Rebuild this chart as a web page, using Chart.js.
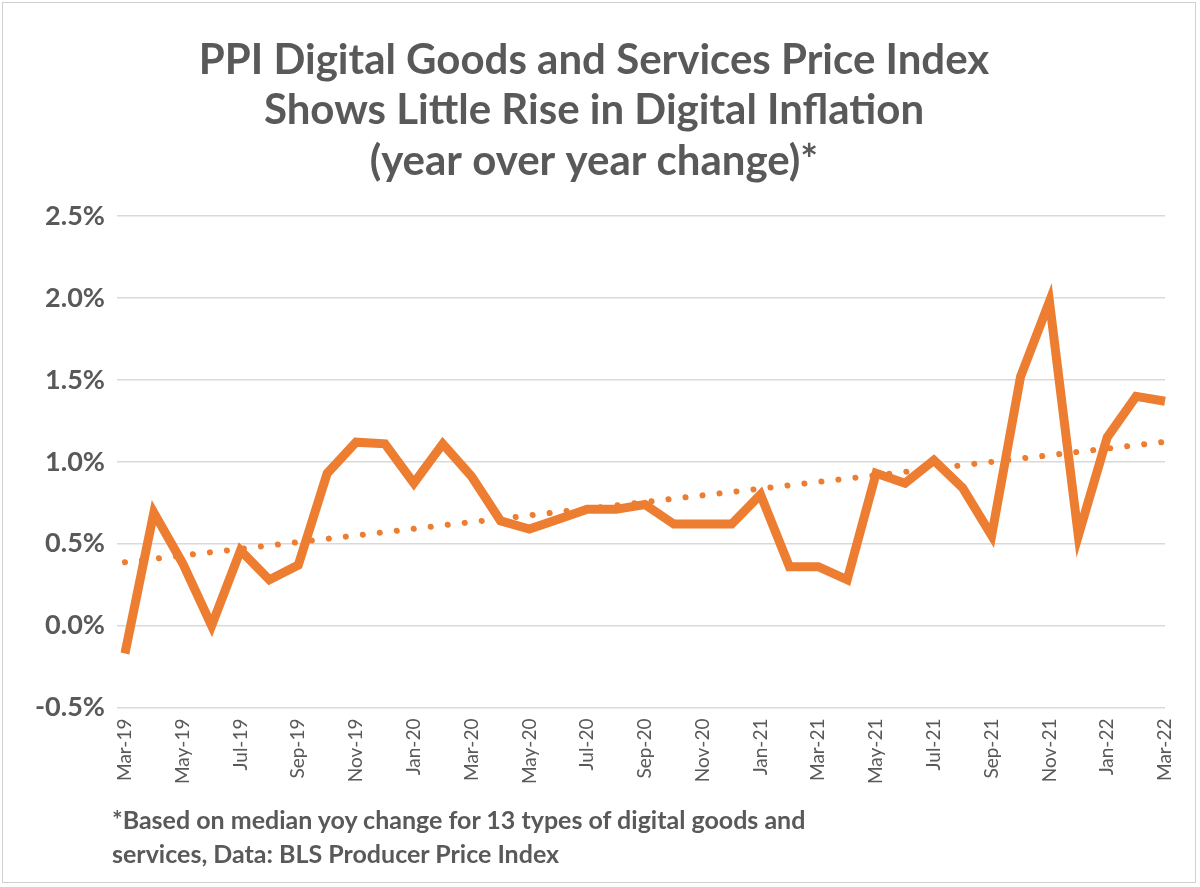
<!DOCTYPE html>
<html><head><meta charset="utf-8">
<script src="https://cdn.jsdelivr.net/npm/chart.js@4/dist/chart.umd.min.js"></script>
<style>
html,body{margin:0;padding:0;background:#fff;}
#wrap{position:absolute;left:2px;top:2px;width:1194px;height:881px;border:1px solid #d0d0d0;box-sizing:border-box;}
#note{position:absolute;left:112px;top:802px;font:bold 25px Lato,sans-serif;color:#595959;line-height:34px;}
</style></head><body>
<div id="wrap"><canvas id="c" width="1192" height="879"></canvas></div>
<div id="note">*Based on median yoy change for 13 types of digital goods and<br>services, Data: BLS Producer Price Index</div>
<script>
const months = ["Mar-19","Apr-19","May-19","Jun-19","Jul-19","Aug-19","Sep-19","Oct-19","Nov-19","Dec-19","Jan-20","Feb-20","Mar-20","Apr-20","May-20","Jun-20","Jul-20","Aug-20","Sep-20","Oct-20","Nov-20","Dec-20","Jan-21","Feb-21","Mar-21","Apr-21","May-21","Jun-21","Jul-21","Aug-21","Sep-21","Oct-21","Nov-21","Dec-21","Jan-22","Feb-22","Mar-22"];
const yoyChange = [-0.17,0.69,0.38,0.0,0.46,0.28,0.37,0.93,1.12,1.11,0.87,1.11,0.91,0.64,0.59,0.65,0.71,0.71,0.74,0.62,0.62,0.62,0.80,0.36,0.36,0.28,0.93,0.87,1.01,0.84,0.55,1.52,1.98,0.55,1.15,1.40,1.37];
const yTicks = [-0.5,0,0.5,1.0,1.5,2.0,2.5];

const n = yoyChange.length;
let sx=0,sy=0,sxy=0,sxx=0;
yoyChange.forEach((v,i)=>{sx+=i;sy+=v;sxy+=i*v;sxx+=i*i;});
const slope=(n*sxy-sx*sy)/(n*sxx-sx*sx), icpt=(sy-slope*sx)/n;
const trend = yoyChange.map((v,i)=>icpt+slope*i);

const grey="#595959", orange="#ED7D31";
new Chart(document.getElementById('c'),{
type:'line',
data:{labels:months,datasets:[
 {data:yoyChange,borderColor:orange,borderWidth:9,pointRadius:0,tension:0,borderJoinStyle:'miter'},
 {data:trend,borderColor:orange,borderWidth:6,borderDash:[0.1,17],borderCapStyle:'round',pointRadius:0}
]},
options:{responsive:false,animation:false,
 layout:{padding:{left:20,right:30,top:10,bottom:95}},
 plugins:{legend:{display:false},tooltip:{enabled:false},
  title:{display:true,text:["PPI Digital Goods and Services Price Index","Shows Little Rise in Digital Inflation","(year over year change)*"],
   color:grey,font:{family:'Lato',size:42,weight:'bold'},lineHeight:1.3,padding:{top:22,bottom:30}}},
 scales:{
  x:{grid:{display:false},border:{display:false},
   ticks:{autoSkip:false,maxRotation:90,minRotation:90,color:grey,font:{family:'Lato',size:19},
    callback:function(v,i){return i%2===0?months[i]:'';}}},
  y:{min:-0.5,max:2.5,border:{display:false},grid:{color:'#d9d9d9',lineWidth:1.5},
   afterBuildTicks:a=>{a.ticks=yTicks.map(v=>({value:v}));},
   ticks:{color:grey,font:{family:'Lato',size:27,weight:'bold'},padding:12,callback:v=>v.toFixed(1)+'%'}}
 }}
});
</script>
</body></html>
